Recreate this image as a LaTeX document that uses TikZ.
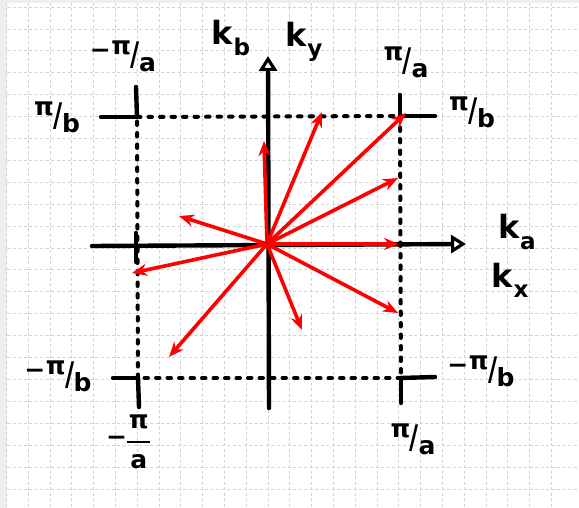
\documentclass[tikz,border=0pt]{standalone}
\usepackage{fontspec}
\setmainfont{DejaVu Sans}
\usetikzlibrary{arrows.meta}
\newcommand{\hfr}[2]{\raisebox{0.32em}{#1}\kern-0.02em\raisebox{-0.12em}{\scalebox{1}[1.3]{/}}\kern-0.02em\raisebox{-0.35em}{#2}}
\newcommand{\kk}[1]{k\kern0.02em\raisebox{-0.32em}{\scalebox{0.72}{#1}}}
\newcommand{\mns}{\raisebox{0.15em}{−}\kern0.02em}
\tikzset{
  gridline/.style={gray!35, line width=0.6pt, dash pattern=on 3pt off 2.5pt},
  axisline/.style={black, line width=4.4pt, line cap=round},
  bz/.style={black, line width=4pt, line cap=round, dash pattern=on 3.5pt off 8pt},
  kvec/.style={red, line width=3.6pt, -{Stealth[length=15pt,width=12pt]}},
  lab/.style={font=\fontsize{25}{30}\selectfont\bfseries, inner sep=0pt},
  klab/.style={font=\fontsize{32}{36}\selectfont\bfseries, inner sep=0pt},
  opentip/.style={-{Triangle[open,length=15pt,width=18pt,line width=3.2pt]}}
}
\begin{document}
\begin{tikzpicture}[x=1pt,y=-1pt]
\useasboundingbox (0,0) rectangle (579,508);
\fill[cyan!8!gray!15] (0,0) rectangle (579,508);
\fill[white] (7,3) rectangle (579,508);
% grid
\foreach \k in {0,...,22} { \draw[gridline] (7,{7+21.9*\k}) -- (579,{7+21.9*\k}); }
\foreach \k in {0,...,25} { \draw[gridline] ({6.2+21.8*\k},3) -- ({6.2+21.8*\k},508); }
% key coordinates
\coordinate (O) at (267,244);
\coordinate (xl) at (92,246);
\coordinate (xr) at (466,244);
\coordinate (yb) at (269,408);
\coordinate (yt) at (268,56);
\coordinate (TL) at (137,117);
\coordinate (TR) at (400,116);
\coordinate (BL) at (138,378);
\coordinate (BR) at (401,378);
% Brillouin zone (dotted square)
\draw[bz] (TL) -- (TR);
\draw[bz] (TR) -- (BR);
\draw[bz] (BR) -- (BL);
\draw[bz] (BL) -- (TL);
% tick marks
\coordinate (tl1) at (101,117); \coordinate (tl2) at (136,87);
\draw[axisline] (tl1) -- (TL); \draw[axisline] (tl2) -- (TL);
\coordinate (tr1) at (435,116); \coordinate (tr2) at (400,95);
\draw[axisline] (TR) -- (tr1); \draw[axisline] (tr2) -- (TR);
\coordinate (bl1) at (113,378); \coordinate (bl2) at (139,407);
\draw[axisline] (bl1) -- (BL); \draw[axisline] (BL) -- (bl2);
\coordinate (br1) at (435,377); \coordinate (br2) at (401,403);
\draw[axisline] (BR) -- (br1); \draw[axisline] (BR) -- (br2);
\coordinate (lm1) at (136,233); \coordinate (lm2) at (136,262);
\draw[axisline] (lm1) -- (lm2);
% axes
\draw[axisline, opentip] (yb) -- (yt);
\draw[axisline, opentip] (xl) -- (xr);
% red vectors
\coordinate (v1) at (264,141);
\coordinate (v2) at (322,112);
\coordinate (v3) at (406,113);
\coordinate (v4) at (398,178);
\coordinate (v5) at (399,244);
\coordinate (v6) at (398,313);
\coordinate (v7) at (302,330);
\coordinate (v8) at (169,357);
\coordinate (v9) at (132,273);
\coordinate (v10) at (179,216);
\foreach \v in {v1,v2,v3,v4,v5,v6,v7,v8,v9,v10} { \draw[kvec] (O) -- (\v); }
% labels
\node[klab] (kb) at (231,38) {\kk{b}};
\node[klab] (ky) at (304,42) {\kk{y}};
\node[klab] (ka) at (517,232) {\kk{a}};
\node[klab] (kx) at (510,280) {\kk{x}};
\node[lab] (ltl) at (123,56) {\mns\hfr{π}{a}};
\node[lab] (llt) at (57,117) {\hfr{π}{b}};
\node[lab] (ltr) at (406,62) {\hfr{π}{a}};
\node[lab] (lrt) at (472,112) {\hfr{π}{b}};
\node[lab] (llb) at (58,376) {\mns\hfr{π}{b}};
\node[lab] (lbl) at (128,442) {\raisebox{0.1em}{−}\kern0.02em\begin{tabular}{@{}c@{}}π\\[-0.25em]\rule[0.35em]{0.9em}{0.1em}\\[-0.55em]a\end{tabular}};
\node[lab] (lrb) at (481,371) {\mns\hfr{π}{b}};
\node[lab] (lbr) at (413,439) {\hfr{π}{a}};
\end{tikzpicture}
\end{document}
